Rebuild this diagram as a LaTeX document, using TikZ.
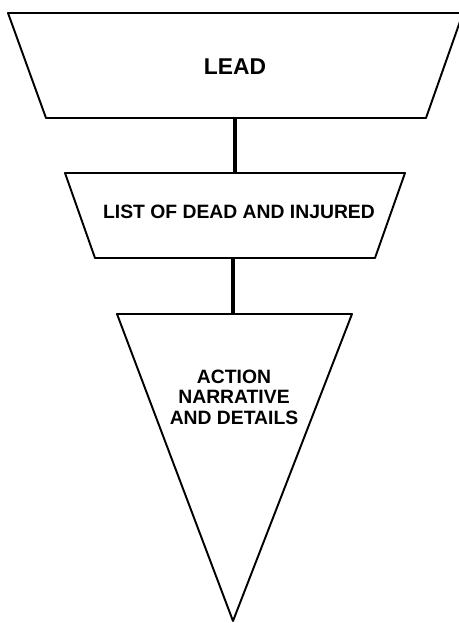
\documentclass[tikz,border=0pt]{standalone}
\usepackage{fontspec}
\setmainfont{Liberation Sans}
\begin{document}
\begin{tikzpicture}[x=0.02cm, y=-0.02cm]

  \useasboundingbox (0,0) rectangle (459,623);

  % corners
  \coordinate (L1) at (8, 13);
  \coordinate (L2) at (463, 13);
  \coordinate (L3) at (426, 118);
  \coordinate (L4) at (46, 118);
  \coordinate (D1) at (65, 173);
  \coordinate (D2) at (405, 173);
  \coordinate (D3) at (375, 258);
  \coordinate (D4) at (95, 258);
  \coordinate (A1) at (117, 314);
  \coordinate (A2) at (352, 314);
  \coordinate (A3) at (233, 621);
  \coordinate (c1) at (235, 118);
  \coordinate (c2) at (235, 173);
  \coordinate (c3) at (233, 258);
  \coordinate (c4) at (233, 314);

  % boxes
  \draw[line width=1.1pt, line join=round] (L1) -- (L2) -- (L3) -- (L4) -- cycle;
  \draw[line width=1.1pt, line join=round] (D1) -- (D2) -- (D3) -- (D4) -- cycle;
  \draw[line width=1.1pt, line join=round] (A1) -- (A2) -- (A3) -- cycle;

  % names of boxes
  \node[font=\fontsize{13}{15}\selectfont\bfseries] (lead) at (235, 67) {LEAD};
  \node[font=\fontsize{11}{12}\selectfont\bfseries] (list) at (239, 212) {LIST OF DEAD AND INJURED};
  \node[font=\fontsize{11}{11.6}\selectfont\bfseries, align=center] (action) at (234, 397) {ACTION\\NARRATIVE\\AND DETAILS};

  % connectors
  \draw[line width=1.8pt] (c1) to (c2);
  \draw[line width=1.8pt] (c3) to (c4);

\end{tikzpicture}
\end{document}
